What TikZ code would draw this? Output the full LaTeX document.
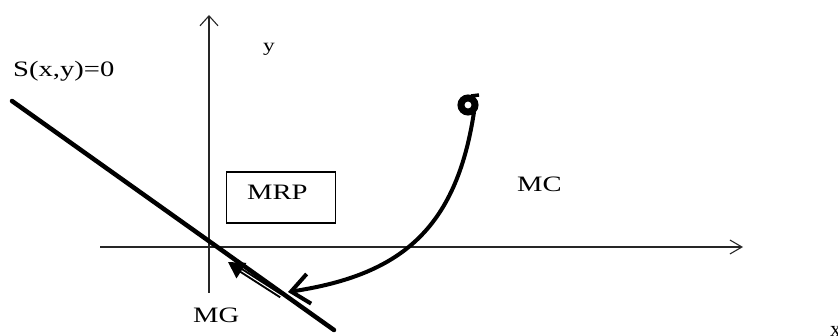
\documentclass[tikz,border=0pt]{standalone}
\usepackage{fontspec}
\setmainfont{Liberation Serif}
\usetikzlibrary{arrows.meta}
\begin{document}
\begin{tikzpicture}[x=1pt,y=-1pt,
  lbl/.style={inner sep=0pt,anchor=base west,font=\fontsize{22}{24}\selectfont},
  axis/.style={line width=1.1pt,draw=black!85},
  thickline/.style={line width=4.5pt,line cap=round},
  ]
\useasboundingbox (0,0) rectangle (838,336);
% coordinates
\coordinate (yb) at (209,293);
\coordinate (yt) at (209,15);
\coordinate (xl) at (100,247);
\coordinate (xr) at (743,247);
\coordinate (ls) at (12,101);
\coordinate (le) at (334,330);
\coordinate (ds) at (281,296);
\coordinate (dt) at (228,262);
\coordinate (cs) at (474,112);
\coordinate (ce) at (288,292);
% axes
\draw[axis,-{Straight Barb[length=10pt,width=18pt,line width=1.1pt]}] (yb) -- (yt);
\draw[axis,-{Straight Barb[length=12pt,width=14pt,line width=1.1pt]}] (xl) -- (xr);
% S line
\draw[thickline] (ls) -- (le);
% small double arrow
\draw[line width=2pt,double=white,double distance=1pt,-{Triangle[length=16pt,width=18pt]}] (ds) -- (dt);
% loop and curved arrow
\coordinate (loop) at (468,105);
\draw[line width=7pt] (loop) circle (7pt);
\draw[line width=3.5pt] (471,96) -- (479,95);
\draw[line width=4pt,-{Straight Barb[length=18pt,width=30pt,line width=4pt]}] (cs) .. controls (456,230) and (400,275) .. (ce);
% box
\node[draw,line width=1.2pt,minimum width=109pt,minimum height=51pt,inner sep=0pt] (mrpbox) at (281,197.5) {};
% labels
\node[lbl] (slab) at (13,77) {\scalebox{1.3}[1]{S(x,y)=0}};
\node[lbl] (ylab) at (263,52) {\scalebox{1.3}[1]{\fontsize{18}{20}\selectfont y}};
\node[lbl] (mrp) at (247,200) {\scalebox{1.3}[1]{MRP}};
\node[lbl] (mc) at (517,192) {\scalebox{1.3}[1]{MC}};
\node[lbl] (mg) at (193,323) {\scalebox{1.3}[1]{MG}};
\node[inner sep=0pt,anchor=north west,font=\fontsize{22}{24}\selectfont] (xlab) at (830,326) {x};
\end{tikzpicture}
\end{document}
